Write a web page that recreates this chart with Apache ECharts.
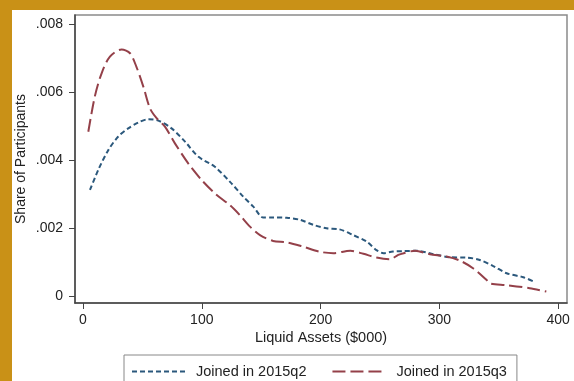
<!DOCTYPE html>
<html>
<head>
<meta charset="utf-8">
<script src="https://cdn.jsdelivr.net/npm/echarts@6/dist/echarts.min.js"></script>
<style>
html,body{margin:0;padding:0;background:#c99117;width:574px;height:381px;overflow:hidden;}
#c{position:absolute;left:12px;top:10px;width:562px;height:371px;background:#fff;}
</style>
</head>
<body>
<div id="c"></div>
<script>
var seriesNames = ['Joined in 2015q2', 'Joined in 2015q3'];
var xTicks = [0, 100, 200, 300, 400];
var yTicks = [0, 0.002, 0.004, 0.006, 0.008];

var q2X = [5.9, 12.9, 21.3, 29.7, 38.1, 46.5, 55, 63.4, 74.6, 85.9, 97, 111, 124, 135, 143.4, 151.8, 160.2, 171.5, 182.8, 194, 205, 216, 227.5, 238.8, 247, 253, 261, 269.6, 280.9, 294.9, 309, 323, 334, 345.4, 356.6, 370.6, 380.5];
var q2Y = [0.00312, 0.00371, 0.00429, 0.00469, 0.00493, 0.0051, 0.0052, 0.00516, 0.00493, 0.00454, 0.0041, 0.0038, 0.00335, 0.00292, 0.00263, 0.00231, 0.00231, 0.0023, 0.00224, 0.00209, 0.00199, 0.00196, 0.00179, 0.0016, 0.00135, 0.00126, 0.00131, 0.00132, 0.00133, 0.00123, 0.00114, 0.00113, 0.00106, 0.00088, 0.00067, 0.00055, 0.00041];

var q3X = [4.5, 10, 15.7, 22.7, 32.5, 39.6, 45, 50.8, 56.4, 62, 69, 77.4, 88.6, 99.9, 111, 124, 132, 140.6, 149, 160, 171.5, 185.4, 199.5, 210.7, 225, 236, 247, 258.4, 265.4, 270, 279.5, 292, 306, 317.3, 328.6, 339.8, 342.6, 356.6, 376, 390];
var q3Y = [0.00483, 0.00587, 0.00655, 0.00704, 0.00725, 0.00714, 0.00674, 0.00616, 0.00552, 0.00523, 0.00498, 0.00449, 0.0039, 0.00341, 0.00302, 0.00266, 0.00238, 0.00204, 0.00179, 0.00162, 0.00158, 0.00145, 0.0013, 0.00126, 0.00133, 0.00124, 0.00113, 0.00108, 0.00121, 0.00126, 0.00133, 0.00123, 0.00116, 0.00104, 0.00081, 0.00047, 0.00037, 0.00032, 0.00023, 0.00013];

function pairs(xs, ys){ return xs.map(function(x,i){ return [x, ys[i]]; }); }

var font = 'Liberation Sans, Arial, sans-serif';
var chart = echarts.init(document.getElementById('c'), null, {renderer:'canvas'});
chart.setOption({
  animation: false,
  backgroundColor: '#fff',
  grid: {left: 63, top: 5, right: 7, bottom: 78, show: true, borderColor: '#8a8a8a', borderWidth: 1.5, backgroundColor: '#fff',
         containLabel: false, outerBoundsMode: 'none'},
  xAxis: {
    type: 'value', min: -6.7, max: 407.4,
    name: 'Liquid Assets ($000)', nameLocation: 'middle', nameGap: 27, nameMoveOverlap: false,
    nameTextStyle: {fontFamily: font, fontSize: 14.5, color: '#222'},
    axisLine: {show: true, onZero: false, lineStyle: {color: '#444', width: 1.5}},
    axisTick: {show: true, length: 6, customValues: xTicks, lineStyle: {color: '#444', width: 1}},
    axisLabel: {customValues: xTicks, margin: 10, fontFamily: font, fontSize: 14, color: '#222'},
    splitLine: {show: false}
  },
  yAxis: {
    type: 'value', min: -0.000206, max: 0.008265,
    name: 'Share of Participants', nameLocation: 'middle', nameGap: 47, nameMoveOverlap: false,
    nameTextStyle: {fontFamily: font, fontSize: 14, color: '#222'},
    axisLine: {show: true, onZero: false, lineStyle: {color: '#444', width: 1.5}},
    axisTick: {show: true, length: 6, customValues: yTicks, lineStyle: {color: '#444', width: 1}},
    axisLabel: {customValues: yTicks, margin: 12, fontFamily: font, fontSize: 14, color: '#222',
      formatter: function(v){ return v === 0 ? '0' : v.toFixed(3).replace(/^0/, ''); }},
    splitLine: {show: false}
  },
  legend: {
    left: 112, top: 345,
    data: seriesNames,
    borderColor: '#888', borderWidth: 1, borderRadius: 0,
    padding: [9, 10, 9, 7],
    itemWidth: 53, itemHeight: 14, itemGap: 25,
    itemStyle: {color: 'transparent', borderWidth: 0, opacity: 0},
    textStyle: {fontFamily: font, fontSize: 14.5, color: '#222', padding: [0, 0, 0, 6]}
  },
  series: [
    {name: seriesNames[0], type: 'line', data: pairs(q2X, q2Y), smooth: 0.3, symbol: 'none',
     lineStyle: {color: '#2b587c', width: 2, type: [5, 3]}, itemStyle: {color: '#2b587c'}},
    {name: seriesNames[1], type: 'line', data: pairs(q3X, q3Y), smooth: 0.3, symbol: 'none',
     lineStyle: {color: '#944049', width: 2, type: [13, 5]}, itemStyle: {color: '#944049'}}
  ]
});
</script>
</body>
</html>
